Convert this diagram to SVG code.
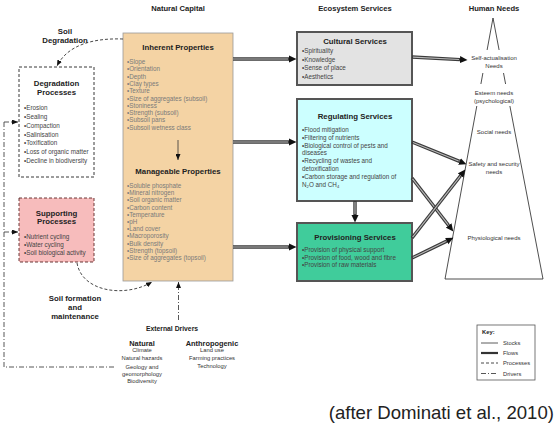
<svg xmlns="http://www.w3.org/2000/svg" width="560" height="428" viewBox="0 0 560 428">
<style>
text{font-family:"Liberation Sans",Arial,sans-serif;fill:#222}
.h{font-weight:bold;font-size:7.6px;text-anchor:middle}
.t{font-weight:bold;font-size:7.8px;text-anchor:middle}
.i{font-size:6.3px;fill:#444}
.ni{font-size:6.3px;fill:#7a7a7a}
.hn{font-size:6px;text-anchor:middle;fill:#333}
.d{font-size:5.8px;text-anchor:middle;fill:#333}
.k{font-size:5.8px;fill:#333}
.fo{fill:none;stroke:#3a3a3a;stroke-width:3.4}
.fi{fill:none;stroke:#b8b8b8;stroke-width:1.1}
.proc{fill:none;stroke:#333;stroke-width:0.9;stroke-dasharray:3 2}
.drv{fill:none;stroke:#444;stroke-width:0.9;stroke-dasharray:5 2 1 2}
.svc{stroke:#555;stroke-width:2}
</style>
<defs>
<marker id="big" markerUnits="userSpaceOnUse" markerWidth="8" markerHeight="8" refX="0" refY="4" orient="auto" viewBox="0 0 8 8"><path d="M0,0.5 L7.5,4 L0,7.5 z" fill="#111"/></marker>
<marker id="sm" markerUnits="userSpaceOnUse" markerWidth="6" markerHeight="5" refX="6" refY="2.5" orient="auto" viewBox="0 0 6 5"><path d="M0,0 L6,2.5 L0,5 z" fill="#111"/></marker>
</defs>

<g id="headers">
<text class="h" x="178" y="11">Natural Capital</text>
<text class="h" x="355" y="11">Ecosystem Services</text>
<text class="h" x="494" y="11">Human Needs</text>
</g>

<g id="natural-capital">
<rect x="123" y="33" width="110" height="248" fill="#f4d3a4" stroke="#999" stroke-width="0.8"/>
<text class="t" x="178" y="50">Inherent Properties</text>
<text class="ni" x="127" y="64">•Slope</text>
<text class="ni" x="127" y="71.3">•Orientation</text>
<text class="ni" x="127" y="78.6">•Depth</text>
<text class="ni" x="127" y="85.9">•Clay types</text>
<text class="ni" x="127" y="93.2">•Texture</text>
<text class="ni" x="127" y="100.5">•Size of aggregates (subsoil)</text>
<text class="ni" x="127" y="107.8">•Stoniness</text>
<text class="ni" x="127" y="115.1">•Strength (subsoil)</text>
<text class="ni" x="127" y="122.4">•Subsoil pans</text>
<text class="ni" x="127" y="129.7">•Subsoil wetness class</text>
<text class="t" x="178" y="174">Manageable Properties</text>
<text class="ni" x="127" y="188">•Soluble phosphate</text>
<text class="ni" x="127" y="195.2">•Mineral nitrogen</text>
<text class="ni" x="127" y="202.4">•Soil organic matter</text>
<text class="ni" x="127" y="209.6">•Carbon content</text>
<text class="ni" x="127" y="216.8">•Temperature</text>
<text class="ni" x="127" y="224">•pH</text>
<text class="ni" x="127" y="231.2">•Land cover</text>
<text class="ni" x="127" y="238.4">•Macroporosity</text>
<text class="ni" x="127" y="245.6">•Bulk density</text>
<text class="ni" x="127" y="252.8">•Strength (topsoil)</text>
<text class="ni" x="127" y="260">•Size of aggregates (topsoil)</text>
</g>

<g id="cultural-services">
<rect class="svc" x="297" y="32" width="115" height="53" fill="#e3e3e3"/>
<text class="t" x="355" y="44">Cultural Services</text>
<text class="i" x="302" y="53">•Spirituality</text>
<text class="i" x="302" y="61.7">•Knowledge</text>
<text class="i" x="302" y="70.4">•Sense of place</text>
<text class="i" x="302" y="79.1">•Aesthetics</text>
</g>

<g id="regulating-services">
<rect class="svc" x="297" y="99" width="115" height="102" fill="#ccffff"/>
<text class="t" x="355" y="119">Regulating Services</text>
<text class="i" x="302" y="132">•Flood mitigation</text>
<text class="i" x="302" y="139.8">•Filtering of nutrients</text>
<text class="i" x="302" y="147.6">•Biological control of pests and</text>
<text class="i" x="302" y="155.4">diseases</text>
<text class="i" x="302" y="163.2">•Recycling of wastes and</text>
<text class="i" x="302" y="171">detoxification</text>
<text class="i" x="302" y="178.8">•Carbon storage and regulation of</text>
<text class="i" x="302" y="186.6">N<tspan font-size="4.2" dy="1.5">2</tspan><tspan dy="-1.5">O and CH</tspan><tspan font-size="4.2" dy="1.5">4</tspan></text>
</g>

<g id="provisioning-services">
<rect class="svc" x="297" y="223" width="115" height="58" fill="#40cc9b"/>
<text class="t" x="355" y="240">Provisioning Services</text>
<text class="i" x="302" y="252">•Provision of physical support</text>
<text class="i" x="302" y="259.7">•Provision of food, wood and fibre</text>
<text class="i" x="302" y="267.4">•Provision of raw materials</text>
</g>

<g id="human-needs">
<path d="M493,18 L487.1,50 M482.9,73 L480.9,84 M476.8,106 L445,279 L543,279 L509.9,106 M505.6,84 L503.5,73 M499.1,50 L493,18" fill="none" stroke="#222" stroke-width="0.8"/>
<text class="hn" x="494" y="60">Self-actualisation</text>
<text class="hn" x="494" y="68">Needs</text>
<text class="hn" x="494" y="95">Esteem needs</text>
<text class="hn" x="494" y="102.5">(psychological)</text>
<text class="hn" x="494" y="134">Social needs</text>
<text class="hn" x="494" y="166">Safety and security</text>
<text class="hn" x="494" y="174">needs</text>
<text class="hn" x="494" y="240">Physiological needs</text>
</g>

<g id="soil-degradation-label">
<text class="t" x="65" y="34">Soil</text>
<text class="t" x="65" y="43">Degradation</text>
</g>

<g id="degradation-processes">
<rect x="19" y="67" width="75" height="110" fill="#fff" stroke="#222" stroke-width="0.9" stroke-dasharray="3 2"/>
<text class="t" x="56.5" y="86">Degradation</text>
<text class="t" x="56.5" y="95">Processes</text>
<text class="i" x="24" y="110">•Erosion</text>
<text class="i" x="24" y="119">•Sealing</text>
<text class="i" x="24" y="128">•Compaction</text>
<text class="i" x="24" y="136.5">•Salinisation</text>
<text class="i" x="24" y="145">•Toxification</text>
<text class="i" x="24" y="154">•Loss of organic matter</text>
<text class="i" x="24" y="163">•Decline in biodiversity</text>
</g>

<g id="supporting-processes">
<rect x="19" y="198" width="75" height="64" fill="#f7bcbc" stroke="#5a2424" stroke-width="0.9" stroke-dasharray="3 2"/>
<text class="t" x="56.5" y="215.5">Supporting</text>
<text class="t" x="56.5" y="224">Processes</text>
<text class="i" x="24" y="239">•Nutrient cycling</text>
<text class="i" x="24" y="246.5">•Water cycling</text>
<text class="i" x="24" y="254.5">•Soil biological activity</text>
</g>

<g id="soil-formation-label">
<text class="t" x="75" y="300.5">Soil formation</text>
<text class="t" x="75" y="309.5">and</text>
<text class="t" x="75" y="319">maintenance</text>
</g>

<g id="external-drivers">
<text x="172" y="330.6" font-weight="bold" font-size="6.8" text-anchor="middle">External Drivers</text>
<text x="142" y="345.5" font-weight="bold" font-size="7.4" text-anchor="middle">Natural</text>
<text class="d" x="142" y="352.3">Climate</text>
<text class="d" x="142" y="360.3">Natural hazards</text>
<text class="d" x="142" y="368.7">Geology and</text>
<text class="d" x="142" y="375.5">geomorphology</text>
<text class="d" x="142" y="383.2">Biodiversity</text>
<text x="212" y="345.5" font-weight="bold" font-size="7.4" text-anchor="middle">Anthropogenic</text>
<text class="d" x="212" y="352.3">Land use</text>
<text class="d" x="212" y="360.3">Farming practices</text>
<text class="d" x="212" y="368.3">Technology</text>
</g>

<g id="connectors">
<path class="fo" d="M233,59 H289" marker-end="url(#big)"/><path class="fi" d="M233,59 H288"/>
<path class="fo" d="M233,142 H289" marker-end="url(#big)"/><path class="fi" d="M233,142 H288"/>
<path class="fo" d="M233,247 H289" marker-end="url(#big)"/><path class="fi" d="M233,247 H288"/>
<path class="fo" d="M355,201 V215" marker-end="url(#big)"/><path class="fi" d="M355,202 V214"/>
<path class="fo" d="M412,57 L460,59.6" marker-end="url(#big)"/><path class="fi" d="M413,57.1 L459,59.5"/>
<path class="fo" d="M412,142 L459.5,161.4" marker-end="url(#big)"/><path class="fi" d="M413,142.4 L458.6,161"/>
<path class="fo" d="M412,178 L448.7,225.5" marker-end="url(#big)"/><path class="fi" d="M412.6,178.8 L448.1,224.7"/>
<path class="fo" d="M412,238 L460.7,175.5" marker-end="url(#big)"/><path class="fi" d="M412.6,237.2 L460.1,176.3"/>
<path class="fo" d="M412,258 L446.7,241.1" marker-end="url(#big)"/><path class="fi" d="M412.9,257.6 L445.8,241.5"/>
<path d="M178,140 V160" fill="none" stroke="#333" stroke-width="0.8" marker-end="url(#sm)"/>
<path class="proc" d="M123,39 C95,38 68,44 57,66" marker-end="url(#sm)"/>
<path class="proc" d="M77,263 C82,292 125,298 152,282" marker-end="url(#sm)"/>
<path class="drv" d="M4,122 V367 H116"/>
<path class="drv" d="M4,122 H18" marker-end="url(#sm)"/>
<path class="drv" d="M4,232 H18" marker-end="url(#sm)"/>
<path class="drv" d="M178.5,320 V282" marker-end="url(#sm)"/>
</g>

<g id="key">
<rect x="477" y="325" width="58" height="55" fill="#fff" stroke="#555" stroke-width="0.8"/>
<text x="482" y="334" font-weight="bold" font-size="5.8">Key:</text>
<line x1="481" y1="343" x2="498" y2="343" stroke="#333" stroke-width="0.8"/>
<text class="k" x="503" y="345">Stocks</text>
<line x1="481" y1="353" x2="498" y2="353" stroke="#333" stroke-width="2.2"/>
<text class="k" x="503" y="355">Flows</text>
<line x1="481" y1="363" x2="498" y2="363" class="proc"/>
<text class="k" x="503" y="365">Processes</text>
<line x1="481" y1="373.5" x2="498" y2="373.5" class="drv"/>
<text class="k" x="503" y="375.5">Drivers</text>
</g>

<text x="554" y="419" font-size="18.6" text-anchor="end" fill="#111">(after Dominati et al., 2010)</text>
</svg>
